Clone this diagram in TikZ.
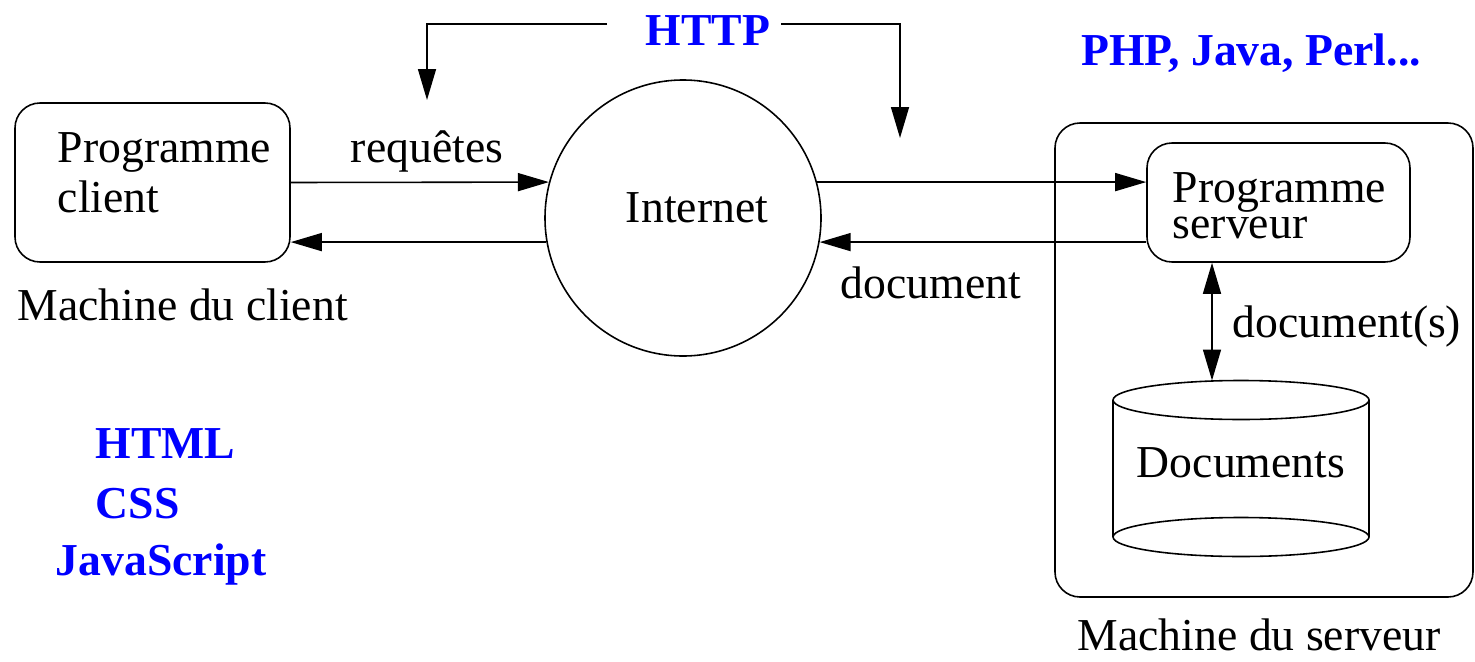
\documentclass[tikz,border=0pt]{standalone}
\usepackage{fontspec}
\setmainfont{Liberation Serif}
\usetikzlibrary{shapes,arrows.meta,positioning}
\newcommand{\grand}{\fontsize{26}{31}\selectfont}

\begin{document}
\begin{tikzpicture}[>={Triangle[length=0.62cm,width=0.36cm]},line width=0.9pt,
    txt/.style={font=\rmfamily\grand,inner sep=0pt},
    bleu/.style={txt,text=blue,font=\rmfamily\grand\bfseries},
    boite/.style={draw,rounded corners=0.5cm,inner sep=0pt}]
  \useasboundingbox (0,0) rectangle (29.5,-13.22);
  % client
  \node[boite,minimum width=5.5cm,minimum height=3.18cm] (client) at (3.05,-3.65) {};
  \node[txt,anchor=base west] (pc1) at (1.14,-3.24) {Programme};
  \node[txt,anchor=base west] (pc2) at (1.14,-4.24) {client};
  \node[txt,anchor=base west] (mclient) at (0.34,-6.4) {Machine du client};
  \node[bleu,anchor=base west] (html) at (1.9,-9.16) {HTML};
  \node[bleu,anchor=base west] (css) at (1.9,-10.36) {CSS};
  \node[bleu,anchor=base west] (js) at (1.1,-11.5) {JavaScript};
  % internet
  \node[draw,circle,minimum size=5.52cm,inner sep=0pt] (internet) at (13.66,-4.36) {};
  \node[txt,anchor=base] (inet) at (13.94,-4.44) {Internet};
  \node[txt,anchor=base] (req) at (8.54,-3.24) {requêtes};
  \node[txt,anchor=base west] (doc) at (16.8,-5.96) {document};
  \draw[->] (client.east) -- (internet.165);
  \draw[->] (internet.190) -- (internet.190 -| client.east);
  % http
  \node[bleu,anchor=base] (http) at (14.16,-0.9) {HTTP};
  \coordinate (hg) at (12.14,-0.48);
  \coordinate (hgb) at (8.54,-2.0);
  \coordinate (hd) at (15.62,-0.48);
  \coordinate (hdb) at (18.0,-2.76);
  \draw[->] (hg) -| (hgb);
  \draw[->] (hd) -| (hdb);
  % serveur
  \node[bleu,anchor=base] (langs) at (25.02,-1.3) {PHP, Java, Perl...};
  \node[boite,minimum width=8.36cm,minimum height=9.48cm] (mserveur) at (25.28,-7.2) {};
  \node[boite,minimum width=5.26cm,minimum height=2.38cm] (prog) at (25.57,-4.05) {};
  \node[txt,anchor=base west] (ps1) at (23.44,-4.04) {Programme};
  \node[txt,anchor=base west] (ps2) at (23.44,-4.76) {serveur};
  \node[txt,anchor=base west] (msrv) at (21.54,-13.0) {Machine du serveur};
  \draw[->] (internet.15) -- (internet.15 -| prog.west);
  \draw[->] (prog.west |- internet.350) -- (internet.350);
  % base de documents
  \draw (24.82,-8.0) ellipse (2.56 and 0.39);
  \draw (22.26,-8.0) -- (22.26,-10.74);
  \draw (27.38,-8.0) -- (27.38,-10.74);
  \draw (24.82,-10.74) ellipse (2.56 and 0.39);
  \node[txt,anchor=base] (docs) at (24.82,-9.54) {Documents};
  \coordinate (dbhaut) at (24.24,-7.61);
  \draw[<->] (dbhaut |- prog.south) -- (dbhaut);
  \node[txt,anchor=base west] (docss) at (24.64,-6.74) {document(s)};
\end{tikzpicture}
\end{document}
